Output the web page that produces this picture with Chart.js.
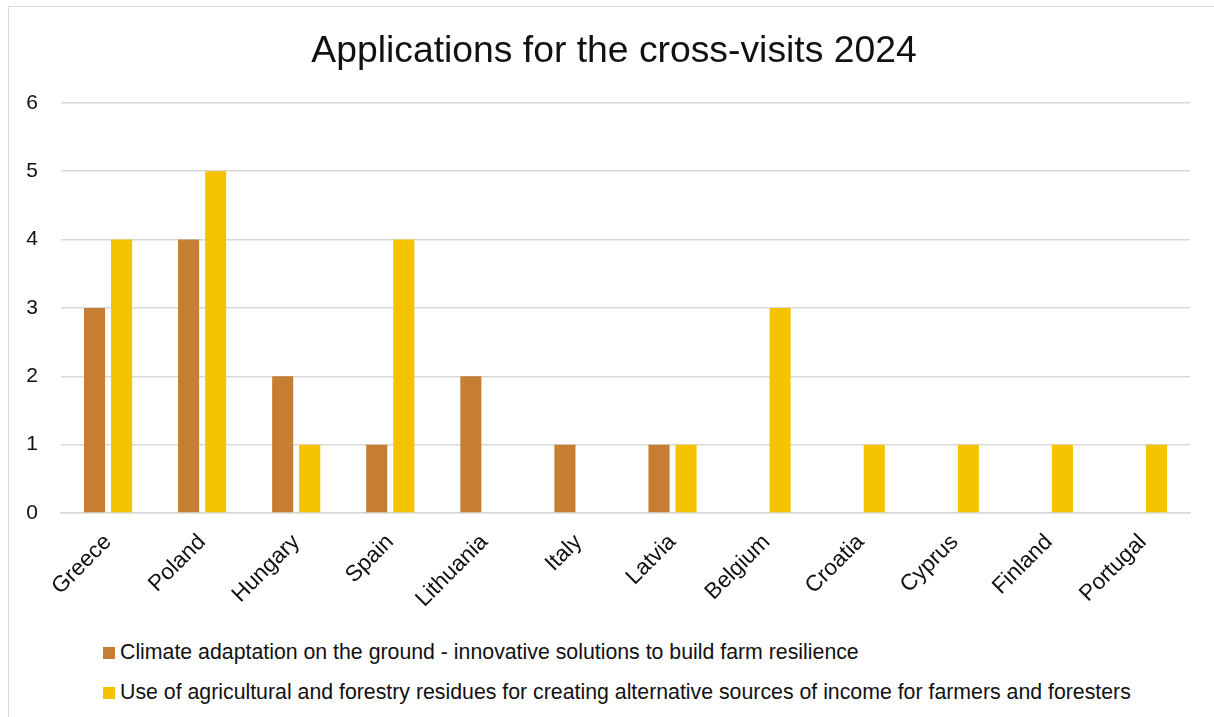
<!DOCTYPE html>
<html>
<head>
<meta charset="utf-8">
<script src="https://cdn.jsdelivr.net/npm/chart.js@4.4.1/dist/chart.umd.min.js"></script>
<style>
    html, body { margin: 0; background: #fff; overflow: hidden; font-family: "Liberation Sans", Arial, sans-serif; }
    #frame { position: absolute; left: 8px; top: 6px; width: 1230px; height: 730px; border: 1px solid #d9d9d9; }
    #chartBox { position: absolute; left: 0; top: 0; width: 1210px; height: 620px; }
    #legend { position: absolute; left: 94px; top: 625px; font-size: 21.3px; line-height: 40px; color: #111; white-space: nowrap; }
    #legend .item { display: block; }
    #legend .box { display: inline-block; width: 12px; height: 12px; margin-right: 5px; }
</style>
</head>
<body>
<div id="frame">
    <div id="chartBox"><canvas id="crossVisitsChart"></canvas></div>
    <div id="legend"></div>
</div>
<script>
const countries = ['Greece', 'Poland', 'Hungary', 'Spain', 'Lithuania', 'Italy', 'Latvia', 'Belgium', 'Croatia', 'Cyprus', 'Finland', 'Portugal'];
const climateAdaptation = [3, 4, 2, 1, 2, 1, 1, 0, 0, 0, 0, 0];
const residuesIncome = [4, 5, 1, 4, 0, 0, 1, 3, 1, 1, 1, 1];
const seriesNames = [
    'Climate adaptation on the ground - innovative solutions to build farm resilience',
    'Use of agricultural and forestry residues for creating alternative sources of income for farmers and foresters'
];
const yTicks = [0, 1, 2, 3, 4, 5, 6];

const fontFamily = '"Liberation Sans", Arial, sans-serif';

// legend drawn as html, built from the chart datasets
const htmlLegend = {
    id: 'htmlLegend',
    afterUpdate(chart) {
        const el = document.getElementById('legend');
        el.innerHTML = '';
        chart.data.datasets.forEach(ds => {
            const row = document.createElement('span');
            row.className = 'item';
            const box = document.createElement('span');
            box.className = 'box';
            box.style.background = ds.backgroundColor;
            row.appendChild(box);
            row.appendChild(document.createTextNode(ds.label));
            el.appendChild(row);
        });
    }
};

const ctx = document.getElementById('crossVisitsChart');
new Chart(ctx, {
    type: 'bar',
    data: {
        labels: countries,
        datasets: [{
            label: seriesNames[0],
            data: climateAdaptation,
            backgroundColor: '#C67F32'
        }, {
            label: seriesNames[1],
            data: residuesIncome,
            backgroundColor: '#F5C300'
        }]
    },
    options: {
        responsive: true,
        maintainAspectRatio: false,
        animation: false,
        categoryPercentage: 0.575,
        barPercentage: 0.78,
        layout: { padding: 0 },
        plugins: {
            legend: { display: false },
            tooltip: { enabled: false },
            title: {
                display: true,
                text: 'Applications for the cross-visits 2024',
                color: '#111',
                font: { family: fontFamily, size: 37.3, weight: 'normal' },
                padding: { top: 22, bottom: 29 }
            }
        },
        scales: {
            y: {
                min: 0,
                max: 6,
                afterBuildTicks: axis => { axis.ticks = yTicks.map(v => ({ value: v })); },
                afterFit: axis => { axis.width = 52; },
                ticks: { color: '#111', padding: 23, font: { family: fontFamily, size: 21 } },
                grid: { color: '#d9d9d9', lineWidth: 1.5, drawTicks: false },
                border: { display: false }
            },
            // empty right margin so the title stays centred on the whole frame
            yRight: {
                position: 'right',
                min: 0,
                max: 6,
                afterFit: axis => { axis.width = 29; },
                ticks: { display: false },
                grid: { display: false, drawTicks: false },
                border: { display: false }
            },
            x: {
                afterFit: axis => { axis.height = 114; },
                ticks: { color: '#111', minRotation: 45, maxRotation: 45, padding: 16, autoSkip: false, font: { family: fontFamily, size: 22.5 } },
                grid: { display: false, drawTicks: false },
                border: { color: '#d9d9d9', width: 1.5 }
            }
        }
    },
    plugins: [htmlLegend]
});
</script>
</body>
</html>
